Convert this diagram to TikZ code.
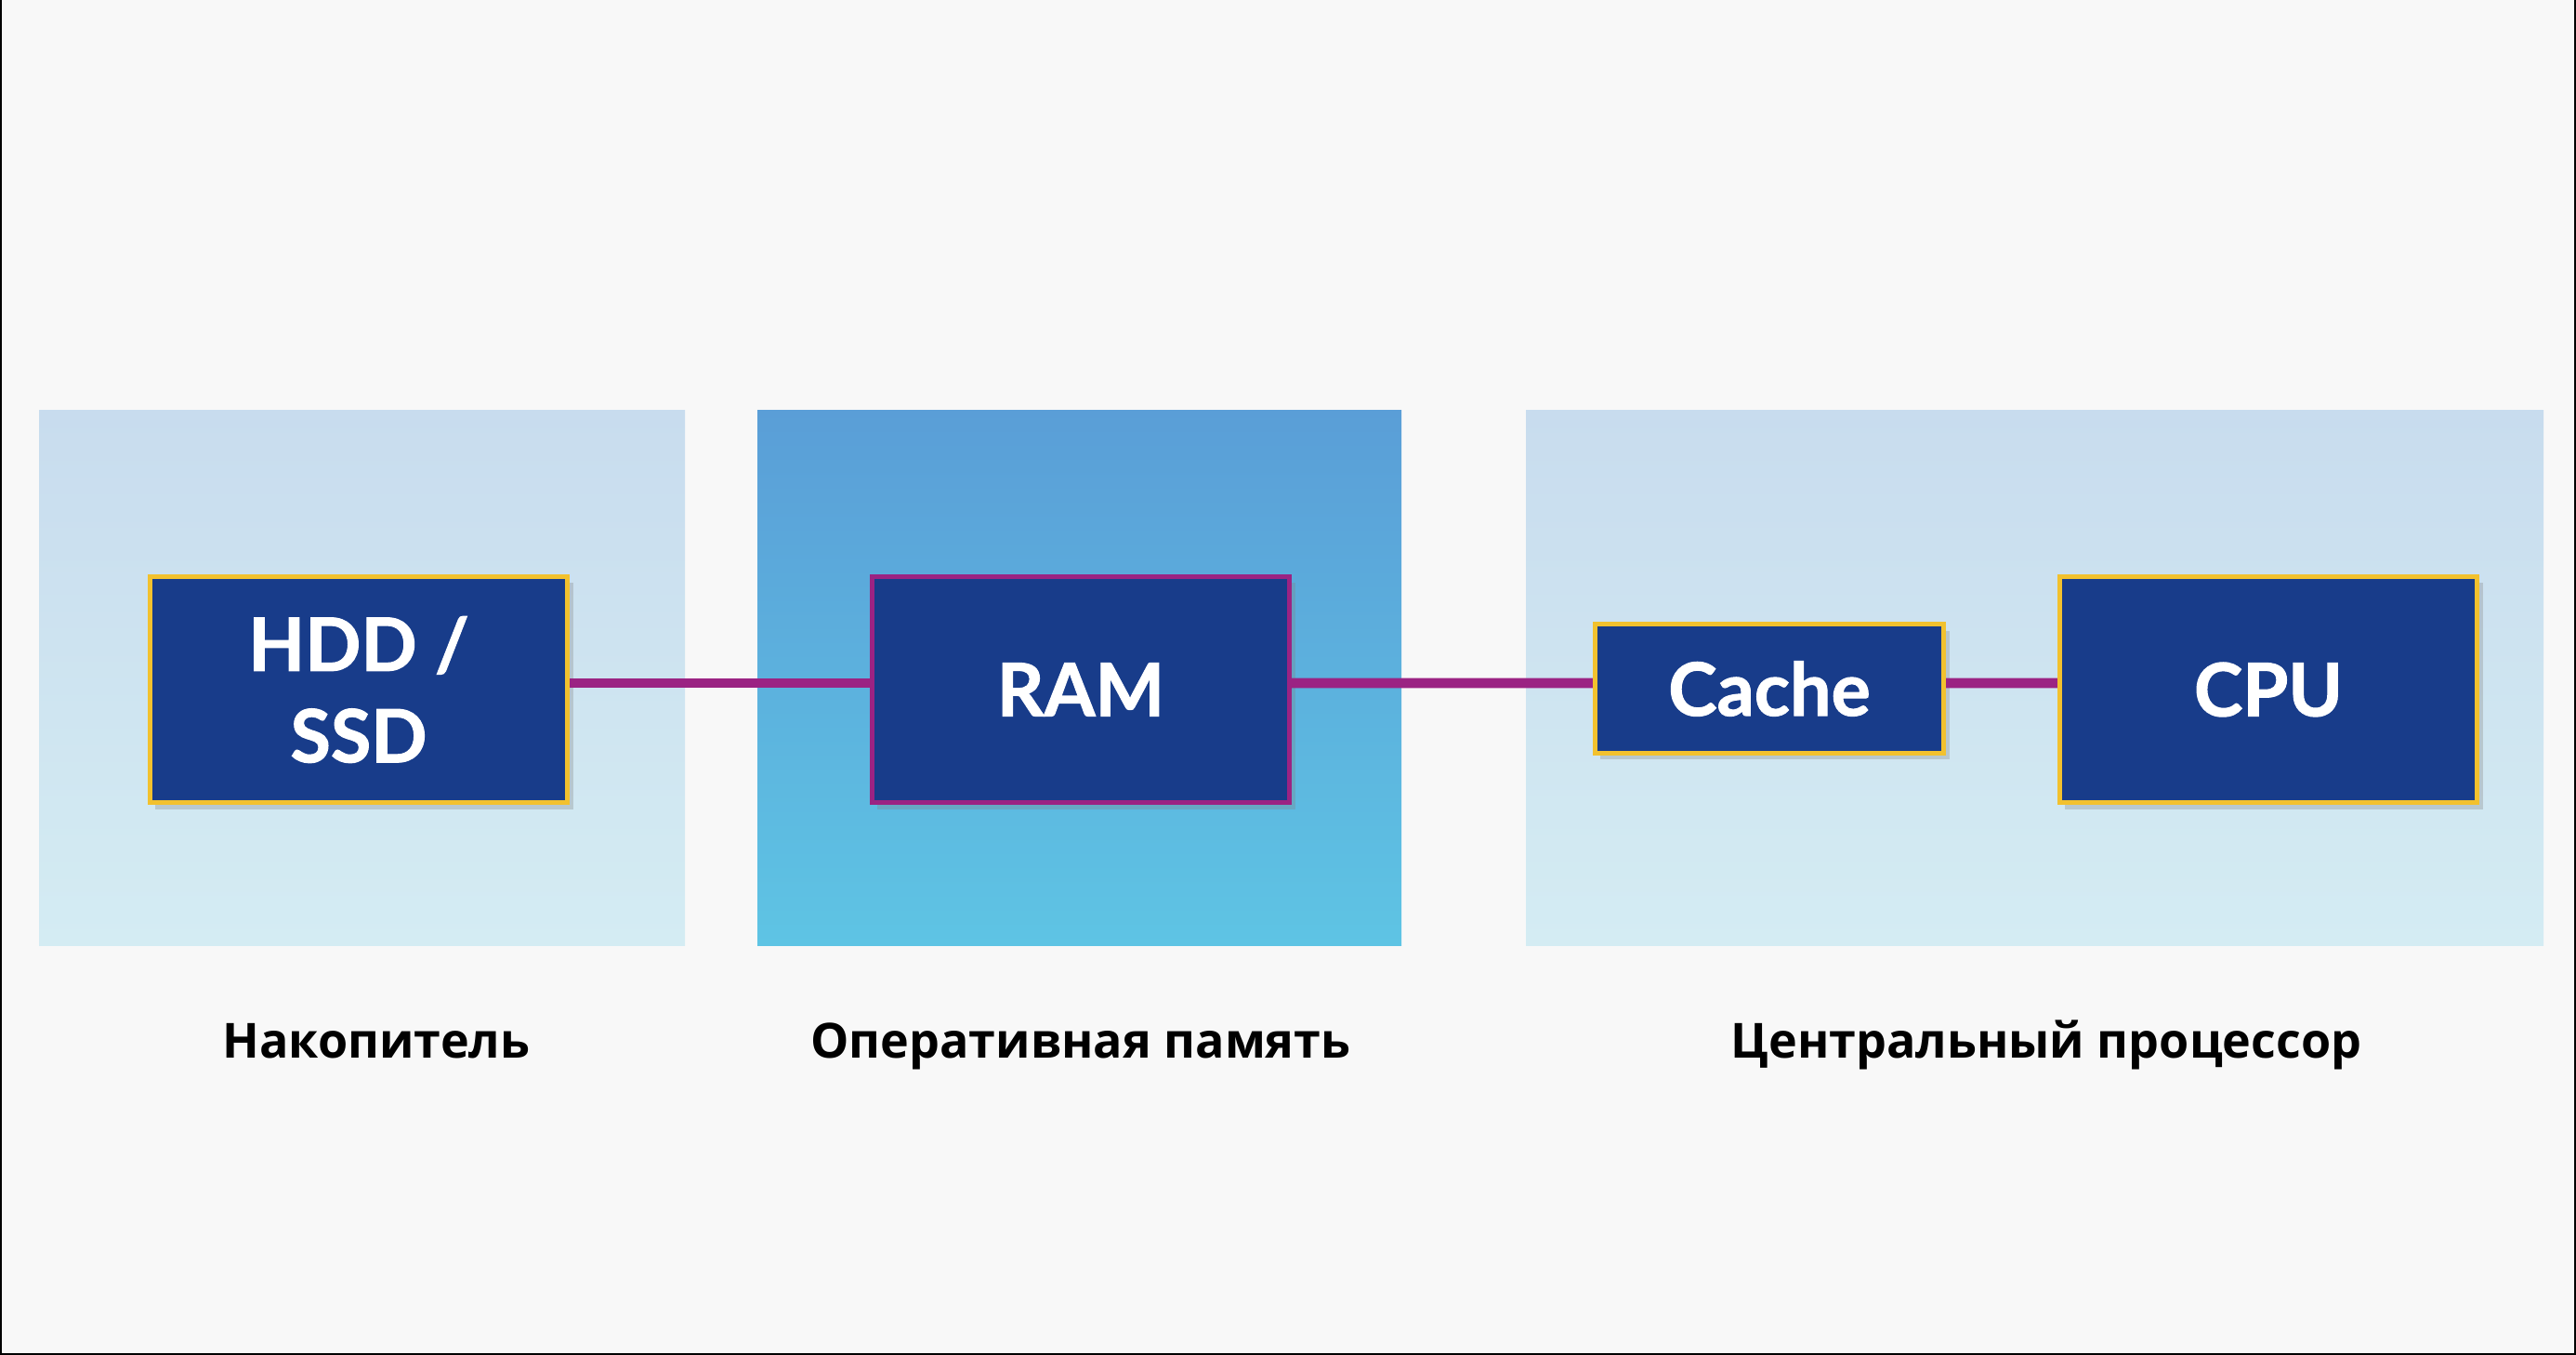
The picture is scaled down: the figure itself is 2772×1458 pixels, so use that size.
\documentclass[tikz,border=0pt]{standalone}
\usepackage{fontspec}
\setmainfont{Open Sans}
\newfontfamily\boxfont{Lato}[BoldFeatures={FakeBold=1.3}]
\usetikzlibrary{positioning, shadows}
\definecolor{bg}{HTML}{F8F8F8}
\definecolor{chip}{HTML}{183C8A}
\definecolor{gold}{HTML}{F2C12E}
\definecolor{violet}{HTML}{9B2383}
\definecolor{paletop}{HTML}{C8DCEE}
\definecolor{palebot}{HTML}{D4ECF3}
\definecolor{ramtop}{HTML}{5A9ED7}
\definecolor{rambot}{HTML}{5EC4E4}
\tikzset{
  unit/.style={draw=gold, line width=1.4pt, fill=chip, text=white,
    font=\boxfont\bfseries\fontsize{22.5}{28}\selectfont, align=center,
    minimum width=4.49cm, minimum height=2.43cm, inner sep=0pt,
    drop shadow={shadow xshift=0.06cm, shadow yshift=-0.07cm, opacity=0.3}},
  bus/.style={draw=violet, line width=3.1pt},
  caption/.style={font=\bfseries\fontsize{14.8}{18}\selectfont, anchor=base}
}

\begin{document}
\begin{tikzpicture}[x=0.01cm, y=-0.01cm]
\useasboundingbox (0,0) rectangle (2772,1458);
\fill[bg] (0,0) rectangle (2772,1458);
\draw[line width=0.6pt] (1,0) -- (1,1457) -- (2771,1457) -- (2771,0);
% panels
\shade[top color=paletop, bottom color=palebot] (42,442) rectangle (737,1017);
\shade[top color=ramtop, bottom color=rambot] (815,442) rectangle (1508,1017);
\shade[top color=paletop, bottom color=palebot] (1642,442) rectangle (2737,1017);
% units
\node[unit] (disk) at (386,742) {HDD /\\SSD};
\node[unit, draw=violet] (ram) at (1163,742) {RAM};
\node[unit, minimum width=3.75cm, minimum height=1.38cm] (cache) at (1904,741) {Cache};
\node[unit] (cpu) at (2441,742) {CPU};
% buses
\draw[bus] ([yshift=0.07cm]disk.east) -- ([yshift=0.07cm]ram.west);
\draw[bus] ([yshift=0.07cm]ram.east) -- ([yshift=0.06cm]cache.west);
\draw[bus] ([yshift=0.06cm]cache.east) -- ([yshift=0.07cm]cpu.west);
% captions
\node[caption] (diskcap) at (405,1138) {Накопитель};
\node[caption] (ramcap) at (1163,1138) {Оперативная память};
\node[caption] (cpucap) at (2202,1138) {Центральный процессор};
\end{tikzpicture}
\end{document}
